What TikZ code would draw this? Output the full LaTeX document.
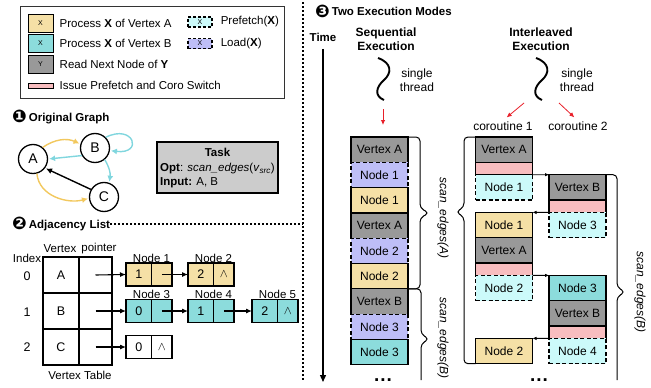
\documentclass[tikz,border=0pt]{standalone}
\usepackage{fontspec}
\setmainfont{Liberation Sans}
\newfontfamily\dingfont{DejaVu Sans}
\usetikzlibrary{arrows.meta,positioning}

\definecolor{vgray}{HTML}{999999}
\definecolor{ayel}{HTML}{F5E0A6}
\definecolor{bteal}{HTML}{8CDCDC}
\definecolor{pcyan}{HTML}{CCFAFA}
\definecolor{lpurp}{HTML}{BEBEF7}
\definecolor{spink}{HTML}{F8BDBF}
\definecolor{eyel}{HTML}{F2C85E}
\definecolor{ecyan}{HTML}{80D6DE}
\definecolor{tgray}{HTML}{CCCCCC}
\definecolor{arred}{HTML}{E8202A}

\newcommand{\nilmark}{{\fontsize{12}{12}\selectfont$\wedge$}}
\newcommand{\dingnum}[1]{\raisebox{-1.5pt}{\scalebox{1.45}{\fontsize{12}{12}\dingfont #1}}}

\tikzset{
    every node/.style={font=\fontsize{11.5}{13.5}\selectfont},
    hdr/.style={anchor=west, inner sep=0pt, font=\fontsize{11.5}{13.5}\selectfont\bfseries},
    blk/.style={draw, line width=1.2pt, minimum width=57pt, minimum height=25.3pt,
        inner sep=0pt, outer sep=0pt, font=\fontsize{12}{14}\selectfont},
    vtxblk/.style={blk, fill=vgray},
    ablk/.style={blk, fill=ayel},
    bblk/.style={blk, fill=bteal},
    prefblk/.style={blk, fill=pcyan, dash pattern=on 4pt off 2.5pt},
    loadblk/.style={blk, fill=lpurp, dash pattern=on 4pt off 2.5pt},
    swblk/.style={blk, fill=spink, minimum height=12.4pt},
    lgsw/.style={draw, line width=1pt, minimum width=25pt, minimum height=18pt,
        inner sep=0pt, font=\fontsize{7}{8}\selectfont},
    lgdash/.style={draw, line width=1.1pt, dash pattern=on 3pt off 2pt, minimum width=24pt,
        minimum height=10pt, inner sep=0pt, font=\fontsize{7}{8}\selectfont},
    lgtxt/.style={anchor=west, inner sep=0pt},
    gnode/.style={circle, draw, line width=1.3pt, minimum size=29pt, inner sep=0pt,
        font=\fontsize{14}{16}\selectfont},
    yedge/.style={draw=eyel, line width=1.4pt, -{Latex[length=6pt,width=6pt]}, shorten >=1pt},
    cedge/.style={draw=ecyan, line width=1.4pt, -{Latex[length=6pt,width=6pt]}, shorten >=1pt},
    vcell/.style={draw, line width=1.2pt, minimum width=36pt, minimum height=36pt,
        inner sep=0pt, outer sep=0pt, font=\fontsize{12.5}{14}\selectfont},
    pcell/.style={vcell, minimum width=33pt},
    lcella/.style={draw, line width=1.2pt, minimum width=25.5pt, minimum height=23pt,
        inner sep=0pt, outer sep=0pt, font=\fontsize{12.5}{14}\selectfont},
    lcellb/.style={lcella, minimum width=20.5pt},
    nlbl/.style={inner sep=0.5pt},
    ptr/.style={line width=1.1pt, -{Latex[length=6pt,width=5pt]}},
    swarr/.style={line width=0.9pt, -{Latex[length=4pt,width=3.5pt]}},
    redarr/.style={draw=arred, line width=0.8pt, -{Latex[length=5pt,width=4.5pt]}},
    brc/.style={line width=1pt, rounded corners=4pt},
    dotline/.style={line width=1.5pt, dash pattern=on 1.5pt off 2.5pt},
    thread/.style={line width=1.9pt},
    dots/.style={font=\fontsize{19}{19}\selectfont\bfseries, anchor=base}
}

\begin{document}
\begin{tikzpicture}[x=1pt, y=-1pt]
\useasboundingbox (0,0) rectangle (651,388);

% legend
\draw[line width=0.9pt, draw=black!80] (20,6) rectangle (284,98);
\node[lgsw, fill=ayel] (lga) at (40.5,23) {X};
\node[lgtxt, right=6pt of lga] (lgatxt) {Process \textbf{X} of Vertex A};
\node[lgsw, fill=bteal] (lgb) at (40.5,43.5) {X};
\node[lgtxt, right=6pt of lgb] (lgbtxt) {Process \textbf{X} of Vertex B};
\node[lgsw, fill=vgray] (lgc) at (40.5,64.5) {Y};
\node[lgtxt, right=6pt of lgc] (lgctxt) {Read Next Node of \textbf{Y}};
\node[lgsw, fill=spink, minimum height=5pt] (lgd) at (40.5,85.5) {};
\node[lgtxt, right=6pt of lgd] (lgdtxt) {Issue Prefetch and Coro Switch};
\node[lgdash, fill=pcyan] (lgp) at (200,22) {X};
\node[lgtxt, right=8pt of lgp] (lgptxt) {Prefetch(\textbf{X})};
\node[lgdash, fill=lpurp] (lgl) at (200,43.5) {X};
\node[lgtxt, right=8pt of lgl] (lgltxt) {Load(\textbf{X})};

% separators
\coordinate (dtop) at (303,2);
\coordinate (dmid) at (303,224);
\coordinate (dbot) at (303,382);
\draw[dotline] (dtop) -- (dbot);

% original graph
\node[hdr] (hdr1) at (12,117) {\dingnum{❶}\,Original Graph};
\node[gnode] (A) at (33,159) {A};
\node[gnode] (B) at (95,148) {B};
\node[gnode] (C) at (104,197) {C};
\draw[yedge] (A.50) to[bend left=30] (B.165);
\draw[cedge] (B.210) -- (A.0);
\draw[cedge] (B.45) .. controls +(28,-14) and +(34,4) .. (B.-10);
\draw[cedge] (B.-50) to[bend left=20] (C.70);
\draw[line width=1.4pt, -{Latex[length=6pt,width=6pt]}, shorten >=1pt] (C.150) -- (A.-37);
\draw[yedge] (A.-75) to[out=-85, in=195] (C.185);

% task box
\node[draw, line width=1.3pt, fill=tgray, minimum width=121pt, minimum height=51pt] (task) at (217.5,167.5) {};
\node[font=\fontsize{11.5}{13.5}\selectfont\bfseries] (tasktitle) at (217.5,152.5) {Task};
\node[anchor=west, align=left, inner sep=0pt, font=\fontsize{11.5}{14}\selectfont] (taskbody) at (160,175.5)
    {\textbf{Opt}: \textit{scan\_edges}(\textit{v}\textsubscript{\textit{src}})\\\textbf{Input:} A, B};

% adjacency list
\node[hdr] (hdr2) at (12,224) {\dingnum{❷}\,Adjacency List};
\draw[dotline] (hdr2.east) -- (dmid);

\node[vcell] (v0) at (61,275) {A};
\node[pcell, right=0pt of v0] (p0) {};
\node[vcell, below=0pt of v0] (v1) {B};
\node[pcell, right=0pt of v1] (p1) {};
\node[vcell, below=0pt of v1] (v2) {C};
\node[pcell, right=0pt of v2] (p2) {};

\node (vlbl) at (60,249) {Vertex};
\node (plbl) at (99,249) {pointer};
\node (ilbl) at (27,258) {Index};
\node[font=\fontsize{12.5}{14}\selectfont] (i0) at (27,276) {0};
\node[font=\fontsize{12.5}{14}\selectfont] (i1) at (27,312) {1};
\node[font=\fontsize{12.5}{14}\selectfont] (i2) at (27,347) {2};
\node (vtab) at (80,375) {Vertex Table};

\node[lcella, fill=ayel] (n1a) at (138.75,274.5) {1};
\node[lcellb, fill=ayel, right=0pt of n1a] (n1b) {};
\node[nlbl, above=0pt of n1a.north east] {Node 1};
\node[lcella, fill=ayel] (n2a) at (200.75,274.5) {2};
\node[lcellb, fill=ayel, right=0pt of n2a] (n2b) {\nilmark};
\node[nlbl, above=0pt of n2a.north east] {Node 2};

\node[lcella, fill=bteal] (n3a) at (138.75,311) {0};
\node[lcellb, fill=bteal, right=0pt of n3a] (n3b) {};
\node[nlbl, above=0pt of n3a.north east] {Node 3};
\node[lcella, fill=bteal] (n4a) at (200.75,311) {1};
\node[lcellb, fill=bteal, right=0pt of n4a] (n4b) {};
\node[nlbl, above=0pt of n4a.north east] {Node 4};
\node[lcella, fill=bteal] (n5a) at (264.75,311) {2};
\node[lcellb, fill=bteal, right=0pt of n5a] (n5b) {\nilmark};
\node[nlbl, above=0pt of n5a.north east] {Node 5};

\node[lcella] (n6a) at (138.75,347) {0};
\node[lcellb, right=0pt of n6a] (n6b) {\nilmark};

\draw[ptr] (p0.center) -- (n1a.west);
\draw[ptr] (n1b.center) -- (n2a.west);
\draw[ptr] (p1.center) -- (n3a.west);
\draw[ptr] (n3b.center) -- (n4a.west);
\draw[ptr] (n4b.center) -- (n5a.west);
\draw[ptr] (p2.center) -- (n6a.west);

% execution modes
\node[hdr] (hdr3) at (315,11) {\dingnum{❸}\,Two Execution Modes};
\node[font=\fontsize{11.5}{13.5}\selectfont\bfseries] (time) at (323,37) {Time};
\coordinate (tend) at (323,382);
\draw[line width=1.3pt, -{Triangle[length=7pt,width=6pt]}, shorten <=4pt] (time.south) -- (tend);

\node[align=center, font=\fontsize{12}{14}\selectfont\bfseries] (seqtitle) at (386,39) {Sequential\\Execution};
\node[align=center, font=\fontsize{12}{14}\selectfont\bfseries] (iltitle) at (541,39) {Interleaved\\Execution};
\node[align=center, font=\fontsize{12}{14}\selectfont] (seqthr) at (417,80) {single\\thread};
\node[align=center, font=\fontsize{12}{14}\selectfont] (ilthr) at (577,80) {single\\thread};

\draw[thread] (378,58) .. controls (392,63) and (392,73) .. (384,80) .. controls (376,87) and (374,96) .. (384,100);
\draw[thread, xshift=158pt] (378,58) .. controls (392,63) and (392,73) .. (384,80) .. controls (376,87) and (374,96) .. (384,100);

\node[font=\fontsize{12}{14}\selectfont] (co1) at (503,126) {coroutine 1};
\node[font=\fontsize{12}{14}\selectfont] (co2) at (578,126) {coroutine 2};

% sequential column
\node[vtxblk] (s1) at (379.5,149.65) {Vertex A};
\node[loadblk, below=0pt of s1] (s2) {Node 1};
\node[ablk, below=0pt of s2] (s3) {Node 1};
\node[vtxblk, below=0pt of s3] (s4) {Vertex A};
\node[loadblk, below=0pt of s4] (s5) {Node 2};
\node[ablk, below=0pt of s5] (s6) {Node 2};
\node[vtxblk, below=0pt of s6] (s7) {Vertex B};
\node[loadblk, below=0pt of s7] (s8) {Node 3};
\node[bblk, below=0pt of s8] (s9) {Node 3};
\node[dots] (sdots) at (383,381) {.\kern1pt.\kern1pt.};

% coroutine 1
\node[vtxblk] (c1a) at (504,149.65) {Vertex A};
\node[swblk, below=0pt of c1a] (c1b) {};
\node[prefblk, below=0pt of c1b] (c1c) {Node 1};
\node[ablk] (c1d) at (504,225.05) {Node 1};
\node[vtxblk, below=0pt of c1d] (c1e) {Vertex A};
\node[swblk, below=0pt of c1e] (c1f) {};
\node[prefblk, below=0pt of c1f] (c1g) {Node 2};
\node[ablk] (c1h) at (504,351.05) {Node 2};

% coroutine 2
\node[vtxblk] (c2a) at (577.5,187.35) {Vertex B};
\node[swblk, below=0pt of c2a] (c2b) {};
\node[prefblk, below=0pt of c2b] (c2c) {Node 3};
\node[bblk] (c2d) at (577.5,288.05) {Node 3};
\node[vtxblk, below=0pt of c2d] (c2e) {Vertex B};
\node[swblk, below=0pt of c2e] (c2f) {};
\node[prefblk, below=0pt of c2f] (c2g) {Node 4};
\node[dots] (idots) at (539,381) {.\kern1pt.\kern1pt.};

% thread arrows
\coordinate (sq) at (383,109);
\draw[redarr, shorten >=12pt] (sq) -- (sq |- s1.north);
\coordinate (il1) at (524,103);
\coordinate (il2) at (559,103);
\draw[redarr, shorten >=1pt] (il1) -- (co1.70);
\draw[redarr, shorten >=1pt] (il2) -- (co2.110);

% coroutine switches
\draw[swarr] (c1b.south east) -- (c2a.north west);
\draw[swarr] (c2b.south west) -- (c1d.north east);
\draw[swarr] (c1f.south east) -- (c2d.north west);
\draw[swarr] (c2f.south west) -- (c1h.north east);

% braces
\draw[brc] (s1.north east) -- (420,137) -- (420,208) -- (429,213) -- (420,218) -- (420,288.8) -- (s6.south east);
\draw[brc] (s6.south east) -- (421,288.8) -- (421,334) -- (429,339) -- (421,344) -- (421,380);
\draw[brc] (c1a.north west) -- (464,137) -- (464,207) -- (456,212) -- (464,217) -- (464,363.7) -- (c1h.south west);
\draw[brc] (c2a.north east) -- (617,174.7) -- (617,287) -- (625,292) -- (617,297) -- (617,380);

\node[rotate=-90, font=\fontsize{12}{14}\selectfont\itshape] (scA) at (443,218) {scan\_edges(A)};
\node[rotate=-90, font=\fontsize{12}{14}\selectfont\itshape] (scB) at (443,338) {scan\_edges(B)};
\node[rotate=-90, font=\fontsize{12}{14}\selectfont\itshape] (scB2) at (640,292) {scan\_edges(B)};

\end{tikzpicture}
\end{document}
